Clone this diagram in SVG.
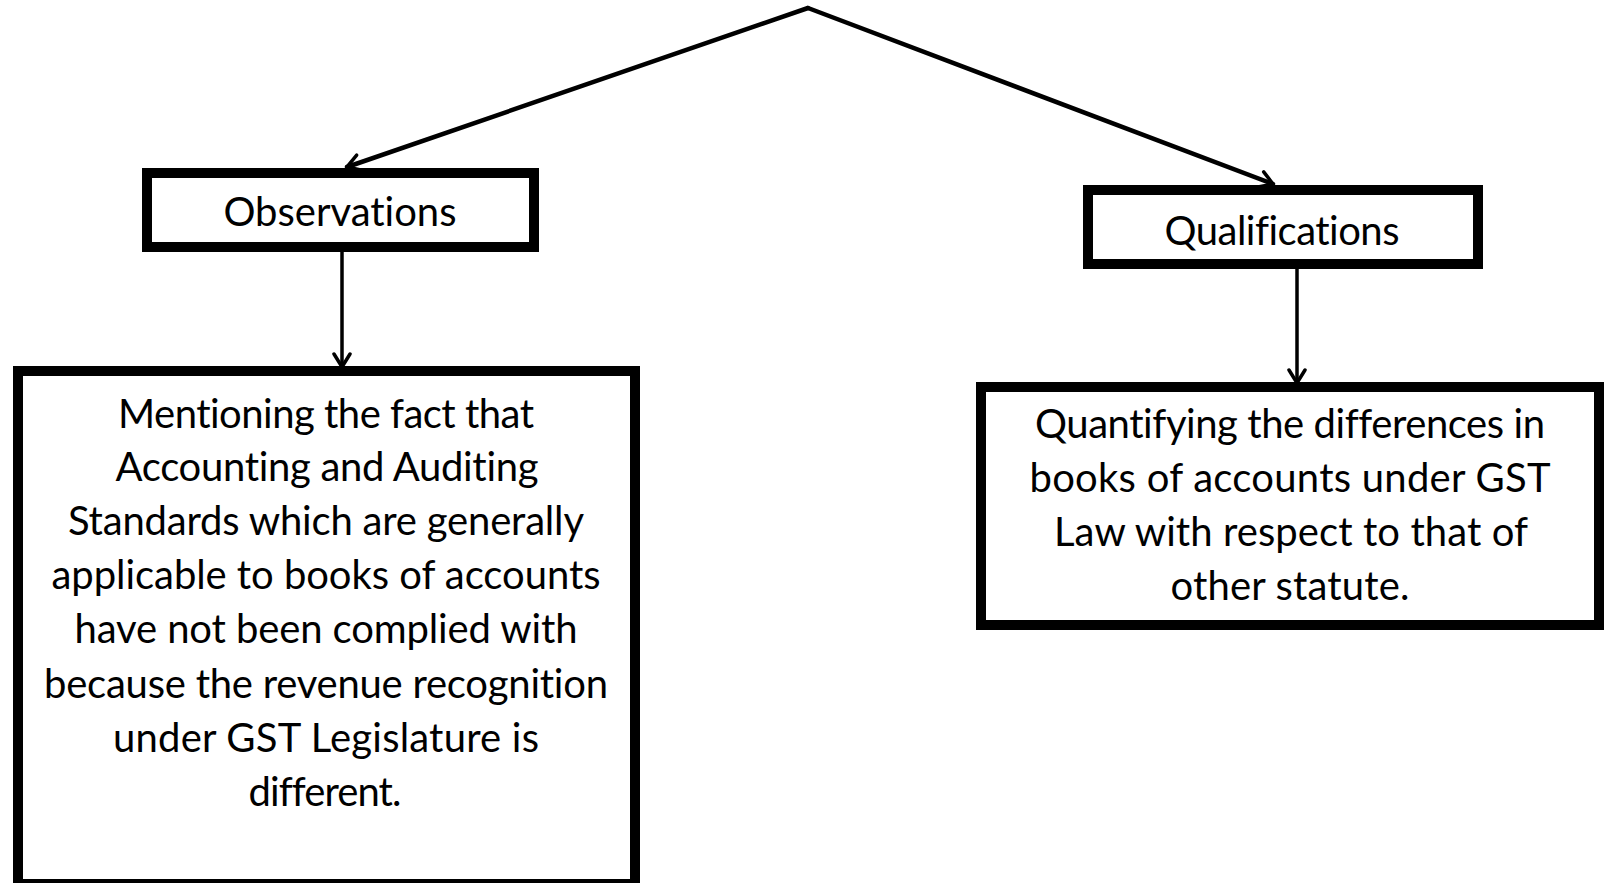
<svg xmlns="http://www.w3.org/2000/svg" width="1604" height="883" viewBox="0 0 1604 883">
  <style>
    .box { fill: #ffffff; stroke: #000000; stroke-width: 10; }
    .link { fill: none; stroke: #000000; stroke-linecap: round; }
    .diag { stroke-width: 4.5; }
    .vert { stroke-width: 3.5; }
    text { font-family: "Lato", "Liberation Sans", sans-serif; fill: #000000; text-anchor: middle; font-variant-ligatures: none; }
    .title { font-size: 40px; }
    .body { font-size: 40px; }
  </style>
  <defs>
    <marker id="arrow" markerUnits="userSpaceOnUse" viewBox="-16 -10 18 20" markerWidth="18" markerHeight="20" refX="0" refY="0" orient="auto">
      <path d="M -13 -8 L 0 0 L -13 8" fill="none" stroke="#000000" stroke-width="3.5" stroke-linejoin="miter" stroke-linecap="round"/>
    </marker>
  </defs>

  <!-- connectors -->
  <g id="connectors">
    <path class="link diag" d="M 808 8 L 347 167" marker-end="url(#arrow)"/>
    <path class="link diag" d="M 808 8 L 1273 184" marker-end="url(#arrow)"/>
    <path class="link vert" d="M 342 252 L 342 367" marker-end="url(#arrow)"/>
    <path class="link vert" d="M 1297 269 L 1297 383" marker-end="url(#arrow)"/>
  </g>

  <!-- first-level nodes -->
  <g id="observations">
    <rect class="box" x="147" y="173" width="387" height="74"/>
    <text class="title" x="340" y="226" textLength="233">Observations</text>
  </g>

  <g id="qualifications">
    <rect class="box" x="1088" y="190" width="390" height="74"/>
    <text class="title" x="1282" y="245" textLength="235">Qualifications</text>
  </g>

  <!-- detail nodes -->
  <g id="observations-detail">
    <rect class="box" x="18" y="371" width="617" height="513"/>
    <text class="body" x="326" y="428" textLength="416">Mentioning the fact that</text>
    <text class="body" x="327" y="481" textLength="423">Accounting and Auditing</text>
    <text class="body" x="326" y="535" textLength="516">Standards which are generally</text>
    <text class="body" x="326" y="589" textLength="549">applicable to books of accounts</text>
    <text class="body" x="326" y="643" textLength="503">have not been complied with</text>
    <text class="body" x="326" y="698" textLength="564">because the revenue recognition</text>
    <text class="body" x="326" y="752" textLength="426">under GST Legislature is</text>
    <text class="body" x="325" y="806" textLength="153">different.</text>
  </g>

  <g id="qualifications-detail">
    <rect class="box" x="981" y="387" width="618" height="238"/>
    <text class="body" x="1290" y="438" textLength="510">Quantifying the differences in</text>
    <text class="body" x="1290" y="492" textLength="521">books of accounts under GST</text>
    <text class="body" x="1291" y="546" textLength="474">Law with respect to that of</text>
    <text class="body" x="1290" y="600" textLength="239">other statute.</text>
  </g>
</svg>
